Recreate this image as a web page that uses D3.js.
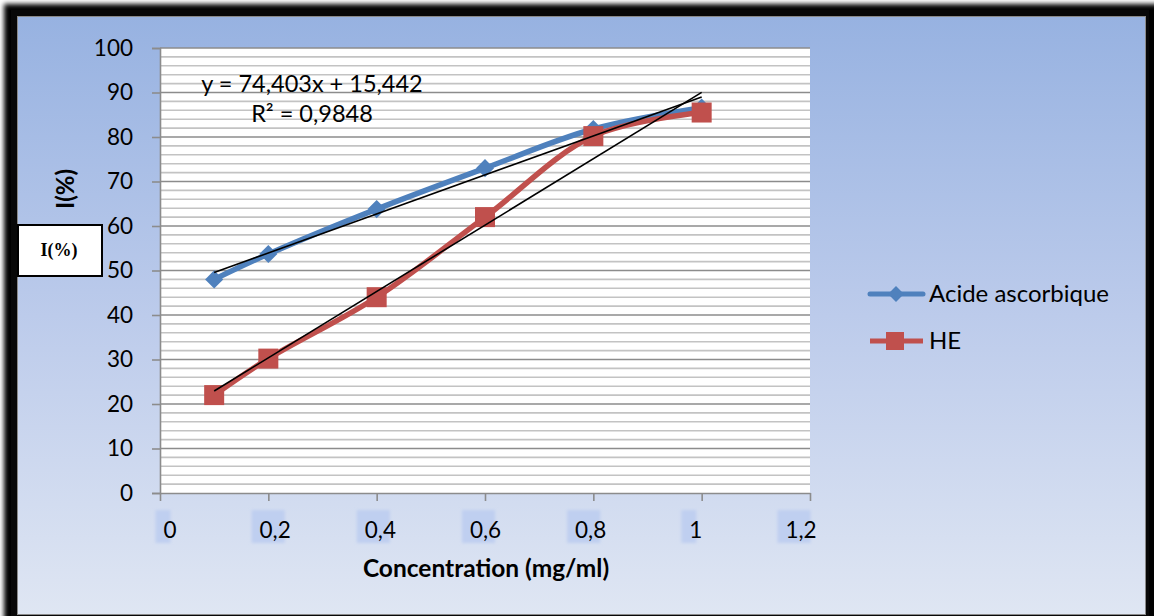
<!DOCTYPE html>
<html><head><meta charset="utf-8">
<script src="https://cdn.jsdelivr.net/npm/d3@7"></script>
<style>html,body{margin:0;padding:0;background:#fff;overflow:hidden}</style>
</head><body>
<svg id="c" width="1154" height="616"></svg>
<script>
const xValues = [0.1, 0.2, 0.4, 0.6, 0.8, 1.0];
const seriesNames = ["Acide ascorbique", "HE"];
const acideAscorbique = [48, 53.7, 63.8, 73, 81.8, 86.6];
const he = [22, 30.2, 44, 62, 80.2, 85.5];
const xTicks = [0, 0.2, 0.4, 0.6, 0.8, 1, 1.2];
const yTicks = [0, 10, 20, 30, 40, 50, 60, 70, 80, 90, 100];
const equationText = ["y = 74,403x + 15,442", "R² = 0,9848"];
const colors = ["#4f81bd", "#c0504d"];

(function(){
const svg = d3.select("#c");
const W = 1154, H = 616;
const font = "Lato, 'Open Sans', sans-serif";

const defs = svg.append("defs");
const g1 = defs.append("linearGradient").attr("id","bg").attr("x1",0).attr("y1",0).attr("x2",0).attr("y2",1);
g1.append("stop").attr("offset","0%").attr("stop-color","#97b2e1");
g1.append("stop").attr("offset","50%").attr("stop-color","#bccbeb");
g1.append("stop").attr("offset","100%").attr("stop-color","#dfe6f3");
const blur = defs.append("filter").attr("id","blur").attr("x","-5%").attr("y","-5%").attr("width","110%").attr("height","110%");
blur.append("feGaussianBlur").attr("stdDeviation",2.5);
const soft = defs.append("filter").attr("id","soft").attr("x","-30%").attr("y","-30%").attr("width","160%").attr("height","160%");
soft.append("feGaussianBlur").attr("stdDeviation",1.5);

svg.append("rect").attr("x",0).attr("y",0).attr("width",W).attr("height",H).attr("fill","#fff");
svg.append("rect").attr("x",4).attr("y",4).attr("width",1156).attr("height",620)
  .attr("fill","#000").attr("filter","url(#blur)");
svg.append("rect").attr("x",11).attr("y",10).attr("width",1138).attr("height",620).attr("fill","#080808");
svg.append("rect").attr("x",17.5).attr("y",16.5).attr("width",1128).attr("height",598)
  .attr("fill","url(#bg)").attr("stroke","#8a8a8a").attr("stroke-width",1);

const pl = 160, pr = 810, pt = 48, pb = 493;
const x = d3.scaleLinear().domain([0,1.2]).range([pl,pr]);
const y = d3.scaleLinear().domain([0,100]).range([pb,pt]);
// tick labels are spread slightly narrower than the ticks in the reference
const xLab = d3.scaleLinear().domain([0,1.2]).range([170,801]);

svg.append("rect").attr("x",pl).attr("y",pt).attr("width",pr-pl).attr("height",pb-pt).attr("fill","#fff");

const minor = d3.range(2,100,2).filter(v => v % 10 !== 0);
svg.append("g").selectAll("line").data(minor).join("line")
  .attr("x1",pl).attr("x2",pr).attr("y1",d=>y(d)).attr("y2",d=>y(d))
  .attr("stroke","#c3c3c3").attr("stroke-width",1.6);
svg.append("g").selectAll("line").data(yTicks.filter(d=>d>0)).join("line")
  .attr("x1",pl).attr("x2",pr).attr("y1",d=>y(d)).attr("y2",d=>y(d))
  .attr("stroke","#8c8c8c").attr("stroke-width",1.6);

const yAxis = d3.axisLeft(y).tickValues(yTicks).tickSize(8).tickPadding(6).tickFormat(d3.format("d"));
const gy = svg.append("g").attr("transform",`translate(${pl},0)`).call(yAxis);
gy.select(".domain").attr("stroke","#8c8c8c").attr("stroke-width",1.6);
gy.selectAll(".tick line").attr("stroke","#8c8c8c").attr("stroke-width",1.6);
gy.selectAll(".tick text").attr("font-family",font).attr("font-size",22.5).attr("fill","#000").attr("x",-27);

const fmt = d => String(d).replace(".", ",");
const xAxis = d3.axisBottom(x).tickValues(xTicks).tickSize(8).tickSizeOuter(0).tickFormat("");
const gx = svg.append("g").attr("transform",`translate(0,${pb})`).call(xAxis);
gx.select(".domain").attr("stroke","#8c8c8c").attr("stroke-width",1.6);
gx.selectAll(".tick line").attr("stroke","#8c8c8c").attr("stroke-width",1.6);

const xl = svg.append("g");
xTicks.forEach(d=>{
  const g = xl.append("g").attr("transform",`translate(${xLab(d)},0)`);
  const txt = g.append("text").attr("y",538).attr("text-anchor","middle").attr("font-family",font)
    .attr("font-size",22.5).attr("fill","#000").text(fmt(d));
  const bb = txt.node().getBBox();
  g.insert("rect","text").attr("x",bb.x-8).attr("y",510).attr("width",Math.max(14,bb.width+2)).attr("height",33)
    .attr("fill","#bfcff0").attr("filter","url(#soft)");
});

function fit(xs, ys){
  const n = xs.length, mx = d3.mean(xs), my = d3.mean(ys);
  let sxy=0,sxx=0; for(let i=0;i<n;i++){sxy+=(xs[i]-mx)*(ys[i]-my); sxx+=(xs[i]-mx)**2;}
  const b = sxy/sxx; return {b, a: my - b*mx};
}

const series = [acideAscorbique, he];
const line = d3.line().x(d=>x(d[0])).y(d=>y(d[1])).curve(d3.curveCatmullRom.alpha(0.5));
series.forEach((vals,i)=>{
  svg.append("path").datum(xValues.map((v,j)=>[v,vals[j]])).attr("d",line)
    .attr("fill","none").attr("stroke",colors[i]).attr("stroke-width",5.5).attr("stroke-linejoin","round").attr("stroke-linecap","round");
});
svg.append("g").selectAll("path").data(xValues.map((v,j)=>[v,acideAscorbique[j]])).join("path")
  .attr("d", d3.symbol().type(d3.symbolDiamond2).size(210)())
  .attr("transform",d=>`translate(${x(d[0])},${y(d[1])})`).attr("fill",colors[0]);
svg.append("g").selectAll("rect").data(xValues.map((v,j)=>[v,he[j]])).join("rect")
  .attr("x",d=>x(d[0])-10).attr("y",d=>y(d[1])-10).attr("width",20).attr("height",20).attr("fill",colors[1]);

series.forEach(vals=>{
  const f = fit(xValues, vals);
  const x0 = d3.min(xValues), x1 = d3.max(xValues);
  svg.append("line").attr("x1",x(x0)).attr("y1",y(f.a+f.b*x0)).attr("x2",x(x1)).attr("y2",y(f.a+f.b*x1))
    .attr("stroke","#000").attr("stroke-width",1.6);
});

svg.append("text").attr("x",312).attr("y",92).attr("text-anchor","middle").attr("font-family",font).attr("font-size",23.5).text(equationText[0]);
svg.append("text").attr("x",312).attr("y",122).attr("text-anchor","middle").attr("font-family",font).attr("font-size",23.5).text(equationText[1]);

svg.append("text").attr("transform","translate(74,189) rotate(-90)").attr("text-anchor","middle")
  .attr("font-family",font).attr("font-weight","bold").attr("font-size",24).text("I(%)");
svg.append("text").attr("x",486).attr("y",577).attr("text-anchor","middle")
  .attr("font-family",font).attr("font-weight","bold").attr("font-size",24.5).text("Concentration (mg/ml)");

svg.append("rect").attr("x",18).attr("y",225).attr("width",84).attr("height",51).attr("fill","#fff").attr("stroke","#000").attr("stroke-width",2);
svg.append("text").attr("x",59).attr("y",256).attr("text-anchor","middle")
  .attr("font-family","'Liberation Serif', serif").attr("font-weight","bold").attr("font-size",18).text("I(%)");

const lg = svg.append("g");
seriesNames.forEach((name,i)=>{
  const ly = 294 + i*47;
  lg.append("line").attr("x1",870).attr("x2",923).attr("y1",ly).attr("y2",ly).attr("stroke",colors[i]).attr("stroke-width",5).attr("stroke-linecap", i===0?"round":"butt");
  if(i===0) lg.append("path").attr("d",d3.symbol().type(d3.symbolDiamond2).size(160)()).attr("transform",`translate(896,${ly})`).attr("fill",colors[0]);
  else lg.append("rect").attr("x",886).attr("y",ly-9).attr("width",18).attr("height",18).attr("fill",colors[1]);
  lg.append("text").attr("x",929).attr("y",ly+8).attr("font-family",font).attr("font-size",24).text(name);
});
})();
</script>
</body></html>
